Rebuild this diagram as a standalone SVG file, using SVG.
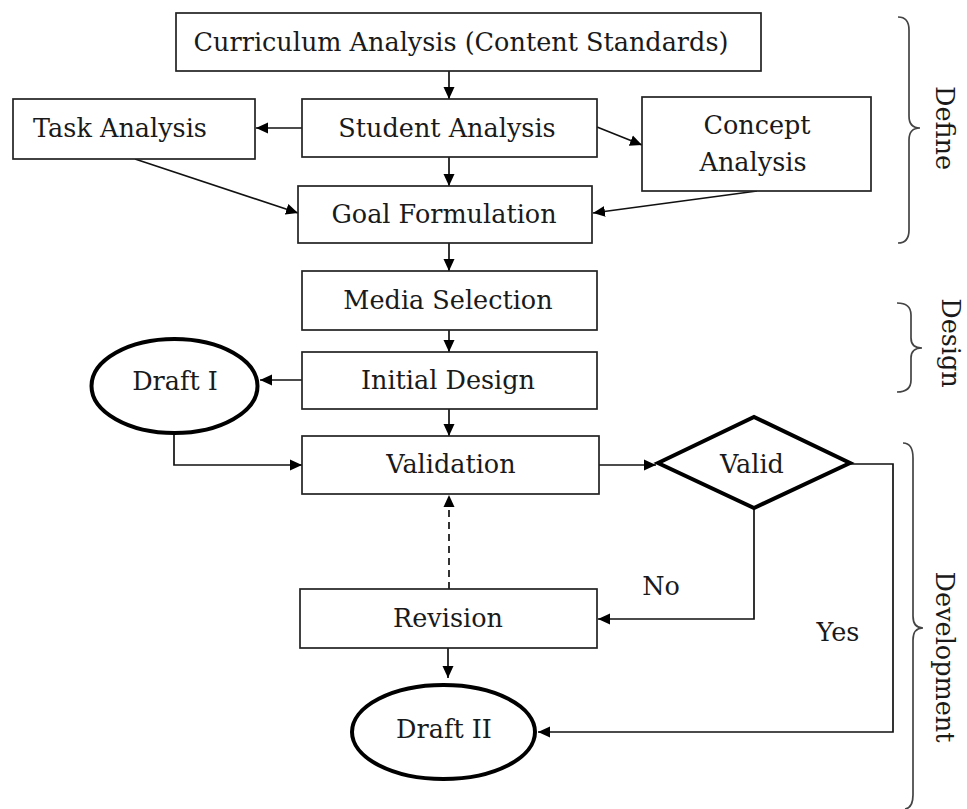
<svg xmlns="http://www.w3.org/2000/svg" width="967" height="809" viewBox="0 0 967 809">
<defs>
<marker id="ah" markerUnits="userSpaceOnUse" markerWidth="13" markerHeight="13" refX="12" refY="6.5" orient="auto">
<path d="M0,1 L12,6.5 L0,12 z" fill="#000"/>
</marker>
<style>
.box{fill:#fff;stroke:#222;stroke-width:1.7}
.thick{fill:#fff;stroke:#000;stroke-width:4}
.t{font-family:"DejaVu Serif","Liberation Serif",serif;font-size:25.5px;fill:#1a1a1a;text-anchor:middle}
.c{fill:none;stroke:#111;stroke-width:1.7}
.d{fill:none;stroke:#111;stroke-width:1.7;stroke-dasharray:7,5}
.br{fill:none;stroke:#444;stroke-width:1.7}
</style>
</defs>
<rect width="967" height="809" fill="#fff"/>
<g id="connectors">
<path class="c" d="M449 71 L449 99" marker-end="url(#ah)"/>
<path class="c" d="M302 128 L256 128" marker-end="url(#ah)"/>
<path class="c" d="M597 127 L642 145" marker-end="url(#ah)"/>
<path class="c" d="M135 159 L298 213" marker-end="url(#ah)"/>
<path class="c" d="M757 191 L593 213" marker-end="url(#ah)"/>
<path class="c" d="M449 157 L449 186" marker-end="url(#ah)"/>
<path class="c" d="M449 243 L449 271" marker-end="url(#ah)"/>
<path class="c" d="M449 330 L449 352" marker-end="url(#ah)"/>
<path class="c" d="M302 380 L260 380" marker-end="url(#ah)"/>
<path class="c" d="M449 409 L449 436" marker-end="url(#ah)"/>
<path class="c" d="M174 433 L174 465 L302 465" marker-end="url(#ah)"/>
<path class="c" d="M599 465 L656 465" marker-end="url(#ah)"/>
<path class="c" d="M754 508 L754 619 L598 619" marker-end="url(#ah)"/>
<path class="c" d="M850 464 L893 464 L893 732 L538 732" marker-end="url(#ah)"/>
<path class="d" d="M449 589 L449 495" marker-end="url(#ah)"/>
<path class="c" d="M448 648 L448 678" marker-end="url(#ah)"/>
</g>
<g id="curriculum"><rect class="box" x="176" y="13" width="585" height="58"/><text class="t" x="461" y="51">Curriculum Analysis (Content Standards)</text></g>
<g id="task"><rect class="box" x="13" y="99" width="242" height="60"/><text class="t" x="120" y="137">Task Analysis</text></g>
<g id="student"><rect class="box" x="302" y="99" width="295" height="58"/><text class="t" x="447" y="137">Student Analysis</text></g>
<g id="concept"><rect class="box" x="642" y="97" width="229" height="94"/><text class="t" x="757" y="134">Concept</text><text class="t" x="753" y="171">Analysis</text></g>
<g id="goal"><rect class="box" x="298" y="186" width="294" height="57"/><text class="t" x="444" y="223">Goal Formulation</text></g>
<g id="media"><rect class="box" x="302" y="271" width="295" height="59"/><text class="t" x="448" y="309">Media Selection</text></g>
<g id="initial"><rect class="box" x="302" y="352" width="295" height="57"/><text class="t" x="448" y="389">Initial Design</text></g>
<g id="draft1"><ellipse class="thick" cx="174.5" cy="386" rx="83" ry="47"/><text class="t" x="175" y="390">Draft I</text></g>
<g id="validation"><rect class="box" x="302" y="436" width="297" height="58"/><text class="t" x="451" y="473">Validation</text></g>
<g id="valid"><polygon class="thick" points="658,463 754,417 850,463 754,508"/><text class="t" x="752" y="473">Valid</text></g>
<g id="revision"><rect class="box" x="300" y="589" width="297" height="59"/><text class="t" x="448" y="627">Revision</text></g>
<g id="draft2"><ellipse class="thick" cx="443.5" cy="732" rx="91.5" ry="47"/><text class="t" x="444" y="738">Draft II</text></g>
<g id="labels"><text class="t" x="661" y="595">No</text><text class="t" x="838" y="641">Yes</text></g>
<g id="define"><path class="br" d="M898 17 Q909 17 909 30 L909 116 Q909 128 920 128 Q909 128 909 140 L909 230 Q909 243 898 243"/><text class="t" transform="translate(936 128) rotate(90)">Define</text></g>
<g id="design"><path class="br" d="M897 303 Q911 303 911 315 L911 338 Q911 348 922 348 Q911 348 911 358 L911 380 Q911 392 897 392"/><text class="t" transform="translate(942 343) rotate(90)">Design</text></g>
<g id="development"><path class="br" d="M903 443 Q913 443 913 458 L913 616 Q913 628 923 628 Q913 628 913 640 L913 795 Q913 808 905 809"/><text class="t" transform="translate(936 657) rotate(90)">Development</text></g>
</svg>
